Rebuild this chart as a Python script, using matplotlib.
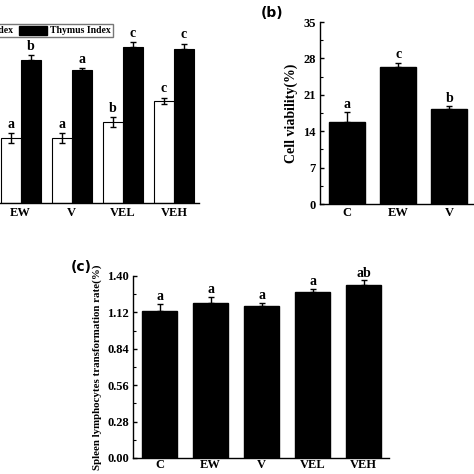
import matplotlib
matplotlib.use("Agg")
import matplotlib.pyplot as plt
from matplotlib.patches import Patch

plt.rcParams['font.family'] = ['Liberation Serif', 'DejaVu Serif']
plt.rcParams['font.weight'] = 'bold'

W = 474.0
H = 474.0

# panel (a): spleen / thymus index (left part of the panel is cropped)
a_groups = ["EW", "V", "VEL", "VEH"]
a_spleen = [2.00, 2.00, 2.49, 3.14]
a_spleen_err = [0.15, 0.15, 0.15, 0.09]
a_thymus = [4.40, 4.09, 4.80, 4.74]
a_thymus_err = [0.15, 0.06, 0.15, 0.15]
a_spleen_lbl = ["a", "a", "b", "c"]
a_thymus_lbl = ["b", "a", "c", "c"]

# panel (b): cell viability
b_groups = ["C", "EW", "V"]
b_vals = [15.8, 26.3, 18.3]
b_err = [1.8, 0.9, 0.5]
b_lbl = ["a", "c", "b"]

# panel (c): spleen lymphocytes transformation rate
c_groups = ["C", "EW", "V", "VEL", "VEH"]
c_vals = [1.134, 1.193, 1.172, 1.275, 1.333]
c_err = [0.050, 0.048, 0.023, 0.026, 0.033]
c_lbl = ["a", "a", "a", "a", "ab"]


def box(l, t, r, b):
    # pixel box -> figure fraction
    return [l / W, 1 - b / H, (r - l) / W, (b - t) / H]


def style(ax, xpad=3):
    ax.spines['top'].set_visible(False)
    ax.spines['right'].set_visible(False)
    ax.tick_params(axis='y', direction='in', length=3, width=1, labelsize=9, pad=3)
    ax.tick_params(axis='y', which='minor', direction='in', length=2, width=0.8)
    ax.tick_params(axis='x', length=0, labelsize=9, pad=xpad)
    for s in ax.spines.values():
        s.set_linewidth(1.0)
    for t in ax.get_xticklabels() + ax.get_yticklabels():
        t.set_fontweight('bold')


fig = plt.figure(figsize=(4.74, 4.74), dpi=100)

# ---- (a)
axa = fig.add_axes(box(-61, 8, 199, 203))
xa = [1, 2, 3, 4]
bw = 0.39
xs = [x - bw / 2 for x in xa]
xt = [x + bw / 2 for x in xa]
axa.bar(xs, a_spleen, bw, color='white', edgecolor='black', linewidth=0.8,
        yerr=a_spleen_err, error_kw=dict(ecolor='black', elinewidth=1, capsize=2, capthick=1))
axa.bar(xt, a_thymus, bw, color='black', edgecolor='black', linewidth=0.8,
        yerr=[[0] * 4, a_thymus_err], error_kw=dict(ecolor='black', elinewidth=1, capsize=2, capthick=1))
for x, v, e, s in zip(xs, a_spleen, a_spleen_err, a_spleen_lbl):
    axa.text(x, v + e + 0.08, s, ha='center', va='bottom', fontsize=10, fontweight='bold')
for x, v, e, s in zip(xt, a_thymus, a_thymus_err, a_thymus_lbl):
    axa.text(x, v + e + 0.08, s, ha='center', va='bottom', fontsize=10, fontweight='bold')
axa.set_xlim(-0.6, 4.49)
axa.set_ylim(0, 6)
axa.set_xticks(xa)
axa.set_xticklabels(a_groups)
axa.set_yticks([])
style(axa, xpad=3)
handles = [Patch(facecolor='white', edgecolor='black', label='Spleen Index'),
           Patch(facecolor='black', edgecolor='black', label='Thymus Index')]
leg = fig.legend(handles=handles, ncol=2, loc='upper right', bbox_to_anchor=(118 / W, 1 - 19 / H),
                 frameon=True, fancybox=False, edgecolor='#555555', fontsize=7,
                 handlelength=2.8, handleheight=1.0, columnspacing=0.6, handletextpad=0.4,
                 borderpad=0.2, prop=dict(weight='bold', size=7))

# ---- (b)
axb = fig.add_axes(box(320, 22, 480, 204))
xb = range(len(b_groups))
axb.bar(xb, b_vals, 0.7, color='black', edgecolor='black',
        yerr=[[0] * 3, b_err], error_kw=dict(ecolor='black', elinewidth=1, capsize=2, capthick=1))
for x, v, e, s in zip(xb, b_vals, b_err, b_lbl):
    axb.text(x, v + e + 0.3, s, ha='center', va='bottom', fontsize=10, fontweight='bold')
axb.set_xlim(-0.53, 2.6)
axb.set_ylim(0, 35)
axb.set_yticks([0, 7, 14, 21, 28, 35])
axb.set_yticks([3.5, 10.5, 17.5, 24.5, 31.5], minor=True)
axb.set_xticks(list(xb))
axb.set_xticklabels(b_groups)
axb.set_ylabel('Cell viability(%)', fontsize=10, fontweight='bold', labelpad=4)
style(axb, xpad=2)
fig.text(272 / W, 1 - 13 / H, '(b)', family='DejaVu Sans', fontsize=10, fontweight='bold',
         ha='center', va='center')

# ---- (c)
axc = fig.add_axes(box(133, 276, 389, 458))
xc = range(len(c_groups))
axc.bar(xc, c_vals, 0.7, color='black', edgecolor='black',
        yerr=[[0] * 5, c_err], error_kw=dict(ecolor='black', elinewidth=1, capsize=2, capthick=1))
for x, v, e, s in zip(xc, c_vals, c_err, c_lbl):
    axc.text(x, v + e + 0.005, s, ha='center', va='bottom', fontsize=10, fontweight='bold')
axc.set_xlim(-0.52, 4.5)
axc.set_ylim(0, 1.40)
axc.set_yticks([0.00, 0.28, 0.56, 0.84, 1.12, 1.40])
axc.set_yticklabels(['0.00', '0.28', '0.56', '0.84', '1.12', '1.40'])
axc.set_yticks([0.14, 0.42, 0.70, 0.98, 1.26], minor=True)
axc.set_xticks(list(xc))
axc.set_xticklabels(c_groups)
axc.set_ylabel('Spleen lymphocytes transformation rate(%)', fontsize=7.8, fontweight='bold')
axc.yaxis.set_label_coords(-31 / 256, 0.5)
style(axc, xpad=1)
fig.text(81 / W, 1 - 267 / H, '(c)', family='DejaVu Sans', fontsize=10, fontweight='bold',
         ha='center', va='center')

fig.savefig('out.png', dpi=100)
